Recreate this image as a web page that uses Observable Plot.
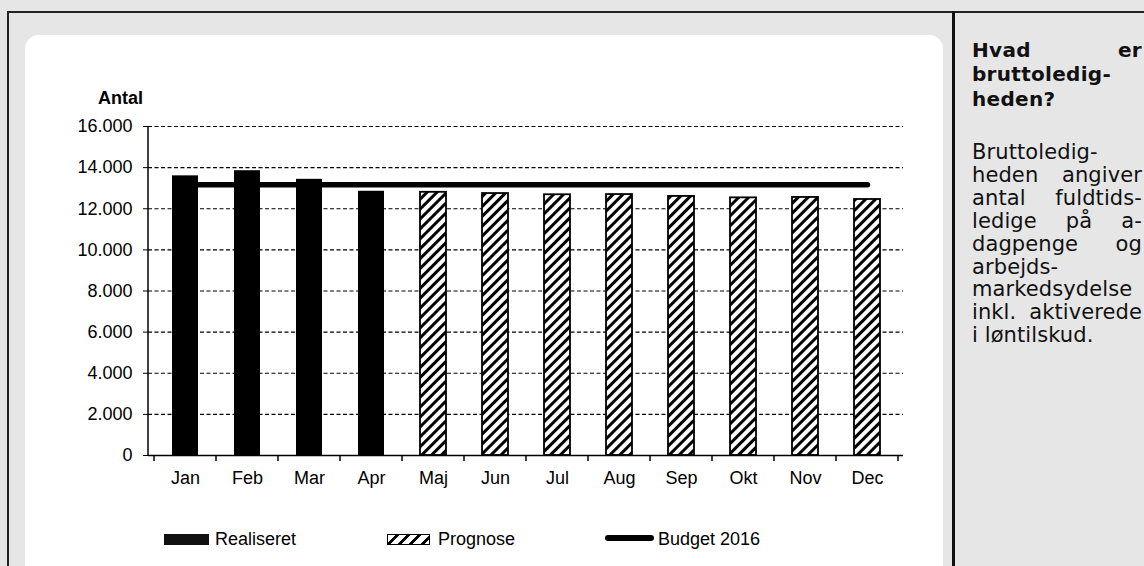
<!DOCTYPE html>
<html>
<head>
<meta charset="utf-8">
<script src="https://cdn.jsdelivr.net/npm/d3@7"></script>
<script src="https://cdn.jsdelivr.net/npm/@observablehq/plot@0.6"></script>
<style>
html, body { margin: 0; padding: 0; }
body { width: 1144px; height: 566px; overflow: hidden; position: relative; background: #e6e6e6; font-family: "Liberation Sans", Arial, sans-serif; color: #000; }
.abs { position: absolute; }
#topline { left: 7px; top: 11px; width: 1137px; height: 2px; background: #222; }
#leftline { left: 7px; top: 11px; width: 2px; height: 560px; background: #222; }
#sepline { left: 952px; top: 11px; width: 2.5px; height: 560px; background: #111; }
#panel { left: 25px; top: 35px; width: 918px; height: 570px; background: #fff; border-radius: 14px; }
#chart { left: 25px; top: 35px; }
#antal { left: 98px; top: 89px; font-size: 18px; font-weight: bold; line-height: 18px; white-space: nowrap; }
.leg { font-size: 18px; line-height: 18px; white-space: nowrap; top: 530px; }
.sw { top: 534px; height: 11px; }
.side { font-family: "DejaVu Sans", Verdana, sans-serif; color: #111; left: 972px; width: 170px; }
.side .ln { display: flex; justify-content: space-between; white-space: nowrap; }
#sideTitle { top: 38px; font-size: 20px; font-weight: bold; line-height: 24.3px; letter-spacing: 0.3px; }
#sideBody { top: 141px; font-size: 21px; line-height: 22.9px; letter-spacing: 0.1px; }
</style>
</head>
<body>
<div class="abs" id="panel"></div>
<div class="abs" id="topline"></div>
<div class="abs" id="leftline"></div>
<div class="abs" id="sepline"></div>
<div class="abs" id="chart"></div>
<div class="abs" id="antal"></div>
<div class="abs" id="legend"></div>
<div class="abs side" id="sideTitle"></div>
<div class="abs side" id="sideBody"></div>
<script>
// ---- data ----
const months = ["Jan", "Feb", "Mar", "Apr", "Maj", "Jun", "Jul", "Aug", "Sep", "Okt", "Nov", "Dec"];
const realisedMonths = ["Jan", "Feb", "Mar", "Apr"];
const realiseret = [13600, 13850, 13430, 12850];
const prognoseMonths = ["Maj", "Jun", "Jul", "Aug", "Sep", "Okt", "Nov", "Dec"];
const prognose = [12800, 12740, 12680, 12690, 12600, 12530, 12550, 12450];
const budget2016 = [13170, 13170, 13170, 13170, 13170, 13170, 13170, 13170, 13170, 13170, 13170, 13170];
const yTicks = [0, 2000, 4000, 6000, 8000, 10000, 12000, 14000, 16000];
const yTickLabels = ["0", "2.000", "4.000", "6.000", "8.000", "10.000", "12.000", "14.000", "16.000"];
const yAxisTitle = "Antal";
const legendLabels = ["Realiseret", "Prognose", "Budget 2016"];
const sideTitleLines = [["Hvad", "er"], ["bruttoledig-"], ["heden?"]];
const sideBodyLines = [["Bruttoledig-"], ["heden", "angiver"], ["antal", "fuldtids-"], ["ledige", "på", "a-"], ["dagpenge", "og"], ["arbejds-"], ["markedsydelse"], ["inkl.", "aktiverede"], ["i løntilskud."]];

// ---- tables ----
const realRows = realisedMonths.map((m, i) => ({month: m, value: realiseret[i]}));
const progRows = prognoseMonths.map((m, i) => ({month: m, value: prognose[i]}));
const budgetRows = months.map((m, i) => ({month: m, value: budget2016[i]}));

// hatch pattern
const defs = d3.create("svg:defs");
const pat = defs.append("pattern").attr("id", "hatch").attr("patternUnits", "userSpaceOnUse")
  .attr("width", 7).attr("height", 7).attr("patternTransform", "rotate(45)");
pat.append("rect").attr("width", 7).attr("height", 7).attr("fill", "#fff");
pat.append("line").attr("x1", 3.5).attr("x2", 3.5).attr("y1", 0).attr("y2", 7).attr("stroke", "#000").attr("stroke-width", 3);

const chart = Plot.plot({
  width: 915,
  height: 470,
  marginLeft: 123,
  marginRight: 37,
  marginTop: 91,
  marginBottom: 50,
  style: {fontFamily: '"Liberation Sans", Arial, sans-serif', fontSize: "18px", background: "transparent", color: "#000", overflow: "visible"},
  x: {type: "band", domain: months, padding: 0, tickSize: 0, tickPadding: 16, label: null},
  y: {domain: [0, 16000], ticks: yTicks, tickFormat: d => yTickLabels[yTicks.indexOf(d)], tickSize: 5, tickPadding: 11, label: null},
  marks: [
    () => defs.node(),
    Plot.ruleY(yTicks.filter(d => d > 0), {stroke: "#000", strokeWidth: 1.1, strokeDasharray: "4,2.5"}),
    Plot.lineY(budgetRows, {x: "month", y: "value", stroke: "#000", strokeWidth: 5.5, strokeLinecap: "round"}),
    Plot.barY(realRows, {x: "month", y: "value", fill: "#000", insetLeft: 18, insetRight: 18}),
    Plot.barY(progRows, {x: "month", y: "value", fill: "url(#hatch)", stroke: "#000", strokeWidth: 1.8, insetLeft: 18, insetRight: 18}),
    Plot.ruleY([0], {stroke: "#000", strokeWidth: 1.5}),
    (index, scales, values, dims) => {
      const {x, y} = scales;
      const g = d3.create("svg:g").attr("stroke", "#000").attr("stroke-width", 1.5);
      const bw = x.bandwidth();
      const x0 = dims.marginLeft;
      const yb = y(0), yt = y(yTicks[yTicks.length - 1]);
      g.append("line").attr("x1", x0).attr("x2", x0).attr("y1", yt).attr("y2", yb);
      const edges = months.map(m => x(m)).concat([x(months[months.length - 1]) + bw]);
      g.selectAll("line.t").data(edges).join("line").attr("class", "t")
        .attr("x1", d => d).attr("x2", d => d).attr("y1", yb).attr("y2", yb + 6);
      return g.node();
    }
  ]
});
document.getElementById("chart").appendChild(chart);
document.getElementById("antal").textContent = yAxisTitle;

// legend
const legend = document.getElementById("legend");
legend.innerHTML = `
  <div class="abs sw" style="left:164px;width:45px;background:#111;"></div>
  <div class="abs leg" style="left:215px;">${legendLabels[0]}</div>
  <div class="abs sw" style="left:387px;width:41px;border:1.5px solid #000;top:533.5px;height:9px;background:repeating-linear-gradient(135deg,#fff 0 5px,#000 5px 8px);"></div>
  <div class="abs leg" style="left:438px;">${legendLabels[1]}</div>
  <div class="abs" style="left:605px;top:535px;width:49px;height:6px;border-radius:3px;background:#000;"></div>
  <div class="abs leg" style="left:658px;">${legendLabels[2]}</div>`;

function fillSide(id, lines) {
  const el = document.getElementById(id);
  lines.forEach(words => {
    const d = document.createElement("div");
    d.className = "ln";
    words.forEach(w => { const s = document.createElement("span"); s.textContent = w; d.appendChild(s); });
    el.appendChild(d);
  });
}
fillSide("sideTitle", sideTitleLines);
fillSide("sideBody", sideBodyLines);
</script>
</body>
</html>
